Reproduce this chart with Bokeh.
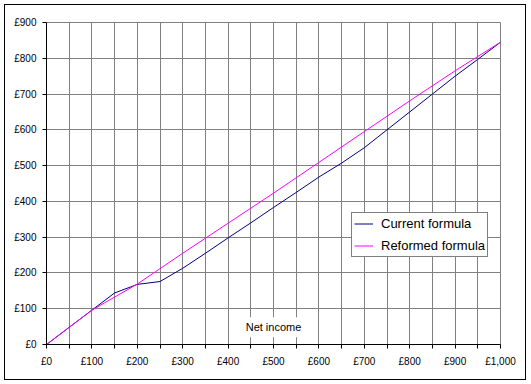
from bokeh.plotting import figure
from bokeh.models import Range1d, FixedTicker, Legend, LegendItem, Label
from bokeh.embed import file_html
from bokeh.resources import INLINE

# ---- data ----
income_current = [0, 50, 100, 150, 200, 250, 300, 350, 400, 450, 500,
                  550, 600, 650, 700, 750, 800, 850, 900, 950, 1000]
current_formula = [0, 48, 96, 144, 168, 176, 213, 255, 298, 340, 383,
                   425, 468, 507, 550, 600, 650, 700, 750, 797, 845]
income_reformed = [0, 100, 200, 300, 400, 500, 600, 700, 800, 900, 1000]
reformed_formula = [0, 96, 169, 255, 339, 423, 509, 595, 681, 765, 845]

x_ticks = [0, 100, 200, 300, 400, 500, 600, 700, 800, 900, 1000]
x_tick_labels = ["£0", "£100", "£200", "£300", "£400", "£500", "£600",
                 "£700", "£800", "£900", "£1,000"]
x_minor = [50, 150, 250, 350, 450, 550, 650, 750, 850, 950]
y_ticks = [0, 100, 200, 300, 400, 500, 600, 700, 800, 900]
y_tick_labels = ["£0", "£100", "£200", "£300", "£400", "£500", "£600",
                 "£700", "£800", "£900"]

FONT = "Liberation Sans"
GRID = "#808080"

p = figure(frame_width=454, frame_height=322,
           min_border_left=41, min_border_right=25,
           min_border_top=17, min_border_bottom=35,
           x_range=Range1d(0, 1000), y_range=Range1d(0, 900),
           output_backend="svg", toolbar_location=None,
           background_fill_color="white", border_fill_color="white",
           outline_line_color=GRID,
           styles={"border": "1px solid black", "margin": "4px"})

# grid
p.xgrid.ticker = FixedTicker(ticks=sorted(x_ticks + x_minor))
p.ygrid.ticker = FixedTicker(ticks=y_ticks)
for g in (p.xgrid, p.ygrid):
    g.grid_line_color = GRID
    g.grid_line_width = 1

# axes
p.xaxis.ticker = FixedTicker(ticks=x_ticks, minor_ticks=x_minor)
p.yaxis.ticker = FixedTicker(ticks=y_ticks)
p.xaxis.major_label_overrides = dict(zip(x_ticks, x_tick_labels))
p.yaxis.major_label_overrides = dict(zip(y_ticks, y_tick_labels))
for ax in (p.xaxis, p.yaxis):
    ax.axis_line_color = "black"
    ax.major_tick_line_color = "black"
    ax.minor_tick_line_color = "black"
    ax.major_tick_in = 0
    ax.major_tick_out = 4
    ax.minor_tick_in = 0
    ax.minor_tick_out = 4
    ax.major_label_text_font = FONT
    ax.major_label_text_font_size = "10px"
    ax.major_label_text_color = "black"
p.yaxis.minor_tick_line_color = None
p.xaxis.major_label_standoff = 7
p.yaxis.major_label_standoff = 6

r1 = p.line(income_current, current_formula, line_color="#000080", line_width=1)
r2 = p.line(income_reformed, reformed_formula, line_color="#FF00FF", line_width=1)

title = Label(x=500, y=48, text="Net income", text_align="center",
              text_baseline="middle", text_font=FONT, text_font_size="11px",
              text_color="black", background_fill_color="white",
              padding=4)
p.add_layout(title)

legend = Legend(items=[LegendItem(label="Current formula", renderers=[r1]),
                       LegendItem(label="Reformed formula", renderers=[r2])],
                location=(305, 87), orientation="vertical",
                label_text_font=FONT, label_text_font_size="13px",
                label_text_color="black",
                label_height=17, glyph_height=17, glyph_width=19,
                label_standoff=8, spacing=5, padding=2, margin=0,
                border_line_color="black", border_line_width=1,
                background_fill_color="white", background_fill_alpha=1)
p.add_layout(legend)

open("out.html", "w").write(file_html(p, INLINE))
